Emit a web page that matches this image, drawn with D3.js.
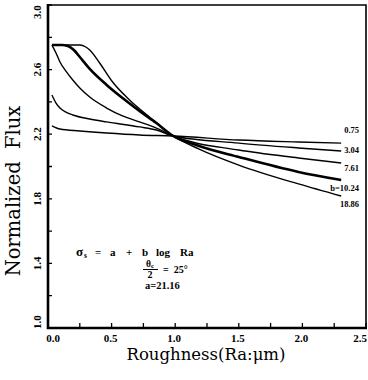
<!DOCTYPE html>
<html><head><meta charset="utf-8">
<script src="https://cdn.jsdelivr.net/npm/d3@7"></script>
<style>
html,body{margin:0;padding:0;background:#fff;}
svg{display:block;}
</style></head>
<body>
<svg id="c" width="368" height="380"></svg>
<script>
// ---- data ----
const seriesNames = ["0.75", "3.04", "7.61", "b=10.24", "18.86"];
const x075 = [0.031, 0.094, 0.25, 0.461, 0.719, 0.984, 1.5, 1.969, 2.305];
const y075 = [2.252, 2.232, 2.220, 2.207, 2.195, 2.189, 2.164, 2.152, 2.145];
const x304 = [0.031, 0.063, 0.094, 0.141, 0.195, 0.328, 0.461, 0.719, 0.852, 0.984, 1.5, 1.969, 2.305];
const y304 = [2.443, 2.393, 2.362, 2.337, 2.319, 2.294, 2.276, 2.245, 2.226, 2.189, 2.145, 2.115, 2.096];
const x761 = [0.031, 0.063, 0.094, 0.141, 0.195, 0.25, 0.328, 0.461, 0.586, 0.719, 0.852, 0.984, 1.5, 1.969, 2.305];
const y761 = [2.752, 2.703, 2.647, 2.591, 2.536, 2.486, 2.430, 2.362, 2.313, 2.276, 2.238, 2.189, 2.102, 2.053, 2.022];
const x1024 = [0.031, 0.109, 0.156, 0.203, 0.25, 0.328, 0.461, 0.586, 0.719, 0.852, 0.984, 1.188, 1.5, 1.969, 2.305];
const y1024 = [2.752, 2.752, 2.746, 2.721, 2.678, 2.604, 2.505, 2.424, 2.344, 2.269, 2.189, 2.127, 2.059, 1.966, 1.916];
const x1886 = [0.031, 0.25, 0.297, 0.328, 0.406, 0.508, 0.641, 0.797, 0.984, 1.188, 1.5, 1.969, 2.305];
const y1886 = [2.752, 2.752, 2.740, 2.721, 2.641, 2.523, 2.412, 2.307, 2.189, 2.108, 2.009, 1.892, 1.817];
const xTicks = [0.0, 0.5, 1.0, 1.5, 2.0, 2.5];
const yTicks = [1.0, 1.4, 1.8, 2.2, 2.6, 3.0];
const xLabel = "Roughness(Ra:\u03bcm)";
const yLabel = "Normalized  Flux";

const seriesX = [x075, x304, x761, x1024, x1886];
const seriesY = [y075, y304, y761, y1024, y1886];

// ---- layout ----
const svg = d3.select("#c");
const L = 48, R = 366, T = 5, B = 328;
const x = d3.scaleLinear().domain([0, 2.5]).range([L, R]);
const y = d3.scaleLinear().domain([1, 3]).range([B, T]);
const serif = "'Liberation Serif', 'DejaVu Serif', serif";

// tick labels
svg.append("g").selectAll("text").data(xTicks).join("text")
  .attr("x", (d, i) => x(d) + (i === 0 ? 5 : i === xTicks.length - 1 ? -6 : -1))
  .attr("y", 342)
  .attr("text-anchor", "middle")
  .attr("font-family", serif).attr("font-weight", "bold").attr("font-size", 11)
  .text(d => d.toFixed(1));
svg.append("g").selectAll("text").data(yTicks).join("text")
  .attr("transform", (d, i) => `translate(41,${y(d) + (i === 0 ? -6 : i === yTicks.length - 1 ? 7 : 0)}) rotate(-90)`)
  .attr("text-anchor", "middle")
  .attr("font-family", serif).attr("font-weight", "bold").attr("font-size", 11)
  .text(d => d.toFixed(1));

// axis titles
svg.append("text").attr("x", 206).attr("y", 360).attr("text-anchor", "middle")
  .attr("font-family", "'DejaVu Serif', serif").attr("font-size", 16.5).text(xLabel);
svg.append("text").attr("transform", "translate(20,191) rotate(-90)").attr("text-anchor", "middle")
  .attr("font-family", "'DejaVu Serif', serif").attr("font-size", 19.5)
  .style("white-space", "pre").text(yLabel);

// curves
const lineGen = d3.line().x(d => x(d[0])).y(d => y(d[1])).curve(d3.curveMonotoneX);
seriesNames.forEach((name, i) => {
  const pts = seriesX[i].map((v, j) => [v, seriesY[i][j]]);
  svg.append("path").datum(pts).attr("d", lineGen)
    .attr("fill", "none").attr("stroke", "#000")
    .attr("stroke-width", i === 3 ? 2.6 : 1.4);
});

// series labels
const labelDy = [-10, 2, 8, 11, 11];
seriesNames.forEach((name, i) => {
  const yy = seriesY[i][seriesY[i].length - 1];
  svg.append("text").attr("x", 359).attr("y", y(yy) + labelDy[i])
    .attr("text-anchor", "end")
    .attr("font-family", serif).attr("font-weight", "bold").attr("font-size", 8.5)
    .text(name);
});

// annotation: sigma_s = a + b log Ra
const annTokens = ["\u03c3", "=", "a", "+", "b", "log", "Ra"];
const annX = [76, 95, 110, 126, 142, 156, 180];
const ann = svg.append("g").attr("font-family", serif).attr("font-weight", "bold").attr("font-size", 11);
annTokens.forEach((t, i) => {
  ann.append("text").attr("x", annX[i]).attr("y", 256)
    .attr("font-size", i === 0 ? 13 : 11).text(t);
});
ann.append("text").attr("x", 84).attr("y", 258).attr("font-size", 7.5).text("s");

svg.append("text").attr("x", 150).attr("y", 267).attr("text-anchor", "middle")
  .attr("font-family", serif).attr("font-weight", "bold").attr("font-size", 9.5)
  .call(t => { t.append("tspan").text("\u03b8"); t.append("tspan").attr("font-size", 6.5).attr("dy", 1).text("c"); });
svg.append("path").attr("d", "M143,269.5H158").attr("stroke", "#000").attr("stroke-width", 1);
svg.append("text").attr("x", 150).attr("y", 278).attr("text-anchor", "middle")
  .attr("font-family", serif).attr("font-weight", "bold").attr("font-size", 10).text("2");
svg.append("text").attr("x", 163).attr("y", 273)
  .attr("font-family", serif).attr("font-weight", "bold").attr("font-size", 10)
  .style("white-space", "pre").text("=  25\u00b0");
svg.append("text").attr("x", 145).attr("y", 289)
  .attr("font-family", serif).attr("font-weight", "bold").attr("font-size", 10.5).text("a=21.16");

// ---- frame and ticks drawn last ----
const frame = svg.append("g").attr("class", "frame");
frame.append("path").attr("d", `M${L},${T}H${R}V${B}`)
  .attr("fill", "none").attr("stroke", "#000").attr("stroke-width", 1.6);
frame.append("path").attr("d", `M${L},${T - 1}V${B}H${R + 1}`)
  .attr("fill", "none").attr("stroke", "#000").attr("stroke-width", 2.6);
const xMinor = d3.range(0, 2.51, 0.25);
const yMinor = d3.range(1, 3.01, 0.2);
frame.append("path")
  .attr("d", xMinor.map(v => `M${x(v)},${B}v-5`).join("") + yMinor.map(v => `M${L},${y(v)}h4`).join(""))
  .attr("fill", "none").attr("stroke", "#000").attr("stroke-width", 1.3);
</script>
</body></html>
